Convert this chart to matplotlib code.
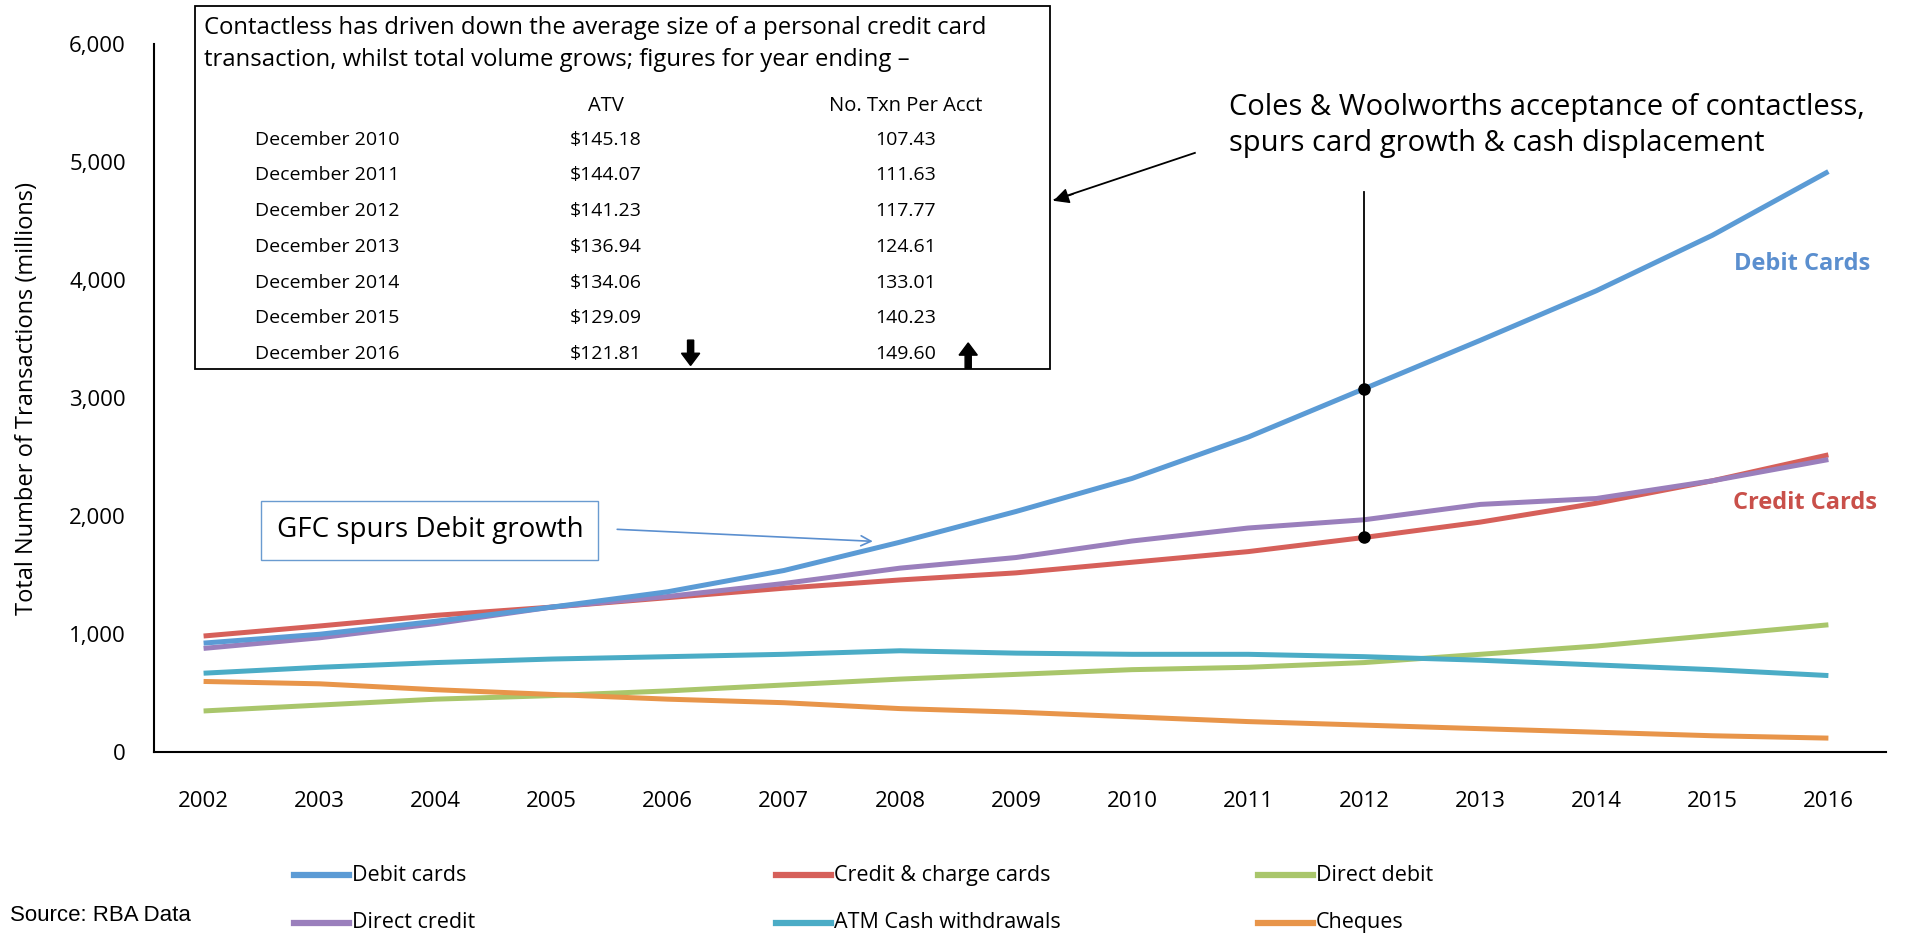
import numpy as np
import matplotlib
matplotlib.use("Agg")
import matplotlib.pyplot as plt
from matplotlib.lines import Line2D
from matplotlib.patches import Rectangle, FancyArrow, FancyArrowPatch
from matplotlib.ticker import FuncFormatter

years = list(range(2002, 2017))
debit_cards = [925, 1000, 1110, 1230, 1360, 1540, 1780, 2040, 2320, 2670, 3080, 3490, 3910, 4380, 4920]
credit_cards = [985, 1070, 1160, 1230, 1310, 1390, 1460, 1520, 1610, 1700, 1820, 1950, 2110, 2300, 2520]
direct_credit = [880, 970, 1090, 1230, 1320, 1430, 1560, 1650, 1790, 1900, 1970, 2100, 2150, 2300, 2480]
direct_debit = [350, 400, 450, 480, 520, 570, 620, 660, 700, 720, 760, 830, 900, 990, 1080]
atm_cash = [670, 720, 760, 790, 810, 830, 860, 840, 830, 830, 810, 780, 740, 700, 650]
cheques = [600, 580, 530, 490, 450, 420, 370, 340, 300, 260, 230, 200, 170, 140, 120]

series_names = ["Debit cards", "Credit & charge cards", "Direct debit",
                "Direct credit", "ATM Cash withdrawals", "Cheques"]
series_colors = ["#5b9bd5", "#d6605a", "#a9c66b", "#9a7fbc", "#4bacc6", "#e8954a"]

table_rows = ["December 2010", "December 2011", "December 2012", "December 2013",
              "December 2014", "December 2015", "December 2016"]
atv = ["$145.18", "$144.07", "$141.23", "$136.94", "$134.06", "$129.09", "$121.81"]
txn_per_acct = ["107.43", "111.63", "117.77", "124.61", "133.01", "140.23", "149.60"]

plt.rcParams['font.family'] = ['Open Sans', 'DejaVu Sans']

fig = plt.figure(figsize=(19.21, 9.38), dpi=100)
ax = fig.add_axes([0.080, 0.198, 0.902, 0.755])

data = dict(zip(series_names, [debit_cards, credit_cards, direct_debit,
                               direct_credit, atm_cash, cheques]))
# draw order so that debit sits on top like the original
for name in ["Direct debit", "Cheques", "ATM Cash withdrawals",
             "Credit & charge cards", "Direct credit", "Debit cards"]:
    c = series_colors[series_names.index(name)]
    ax.plot(years, data[name], color=c, lw=3.6, solid_capstyle='butt')

ax.set_xlim(2001.57, 2016.5)
ax.set_ylim(0, 6000)
ax.set_yticks(range(0, 6001, 1000))
ax.yaxis.set_major_formatter(FuncFormatter(lambda v, p: f"{int(v):,}"))
ax.set_xticks(years)
ax.tick_params(axis='both', length=0, labelsize=16)
ax.tick_params(axis='x', pad=28)
ax.tick_params(axis='y', pad=20)
for s in ['top', 'right']:
    ax.spines[s].set_visible(False)
for s in ['left', 'bottom']:
    ax.spines[s].set_color('black')
    ax.spines[s].set_linewidth(1.5)
ax.set_ylabel("Total Number of Transactions (millions)", fontsize=17, labelpad=22)

# 2012 marker line between credit and debit
i12 = years.index(2012)
ax.plot([2012, 2012], [credit_cards[i12], 4745], color='black', lw=1.3)
ax.plot([2012, 2012], [credit_cards[i12], debit_cards[i12]], 'o', color='black', ms=8)

# series labels
ax.text(2015.77, 4133, "Debit Cards", color="#5b8fcf", fontsize=17, fontweight='bold',
        ha='center', va='center')
ax.text(2015.8, 2108, "Credit Cards", color="#c9504a", fontsize=17, fontweight='bold',
        ha='center', va='center')

# GFC box and arrow
ax.annotate("", xy=(2007.79, 1786), xytext=(2005.54, 1890),
            arrowprops=dict(arrowstyle='->', color='#5b8fcf', lw=1.2, mutation_scale=18))
ax.text(2003.95, 1880, "GFC spurs Debit growth", fontsize=20, ha='center', va='center',
        bbox=dict(boxstyle='square,pad=0.55', fc='white', ec='#6a9bd0', lw=1.0))

# Coles & Woolworths annotation
fig.text(0.640, 0.866, "Coles & Woolworths acceptance of contactless,\nspurs card growth & cash displacement",
         fontsize=21, ha='left', va='center', linespacing=1.3)
fig.add_artist(Line2D([0.622, 0.549], [0.837, 0.787], color='black', lw=1.3))
fig.add_artist(FancyArrowPatch((0.560, 0.794), (0.547, 0.785), transform=fig.transFigure,
                               arrowstyle='-|>', mutation_scale=24, color='black'))

# table box
fig.add_artist(Rectangle((0.1015, 0.607), 0.445, 0.387, transform=fig.transFigure,
                         fill=False, ec='black', lw=1.3))
fig.text(0.106, 0.970, "Contactless has driven down the average size of a personal credit card",
         fontsize=17.2, va='center')
fig.text(0.106, 0.936, "transaction, whilst total volume grows; figures for year ending \u2013",
         fontsize=17.2, va='center')
fig.text(0.3155, 0.887, "ATV", fontsize=14.5, ha='center', va='center')
fig.text(0.4715, 0.887, "No. Txn Per Acct", fontsize=14.5, ha='center', va='center')
for k, (r, a, t) in enumerate(zip(table_rows, atv, txn_per_acct)):
    yy = 0.851 - k * 0.0381
    fig.text(0.1325, yy, r, fontsize=14, va='center')
    fig.text(0.3155, yy, a, fontsize=14, ha='center', va='center')
    fig.text(0.4715, yy, t, fontsize=14, ha='center', va='center')
yy = 0.851 - 6 * 0.0381
fig.add_artist(FancyArrow(0.3595, yy + 0.015, 0, -0.014, width=0.0032, head_width=0.0095,
                          head_length=0.013, color='black', transform=fig.transFigure))
fig.add_artist(FancyArrow(0.504, yy - 0.015, 0, 0.014, width=0.0032, head_width=0.0095,
                          head_length=0.013, color='black', transform=fig.transFigure))

# legend, laid out row by row like the original
leg_x = [0.153, 0.404, 0.655]
leg_y = [0.067, 0.016]
for k, (name, c) in enumerate(zip(series_names, series_colors)):
    x0 = leg_x[k % 3]
    y0 = leg_y[k // 3]
    fig.add_artist(Line2D([x0, x0 + 0.0287], [y0, y0], color=c, lw=4.5))
    fig.text(x0 + 0.030, y0, name, fontsize=15.5, va='center')

fig.text(0.005, 0.024, "Source: RBA Data", fontsize=16, family=['Liberation Sans', 'DejaVu Sans'],
         va='center')

fig.savefig("out.png", dpi=100)
